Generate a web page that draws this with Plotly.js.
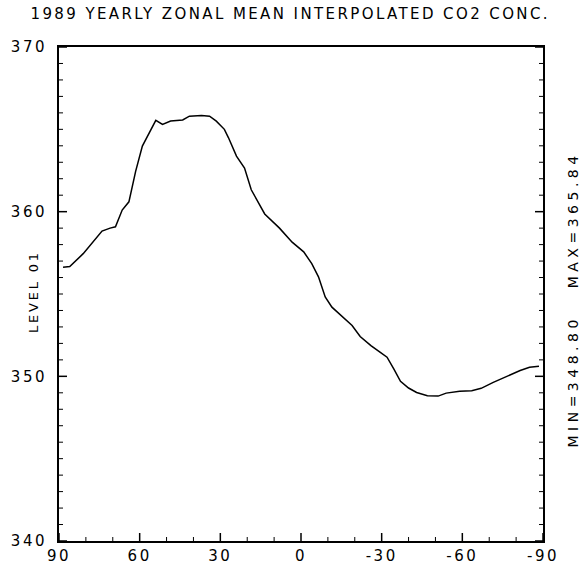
<!DOCTYPE html>
<html>
<head>
<meta charset="utf-8">
<script src="https://cdn.plot.ly/plotly-3.0.1.min.js"></script>
<style>
  html, body { margin: 0; padding: 0; background: #fff; }
  #chart { width: 584px; height: 567px; }
  .gtitle { letter-spacing: 2.4px; }
  .xtick text, .ytick text { letter-spacing: 2.5px; }
  .annotation-text { letter-spacing: 2.8px; }
</style>
</head>
<body>
<div id="chart"></div>
<script>
const titleText = "1989 YEARLY ZONAL MEAN INTERPOLATED CO2 CONC.";
const levelLabel = "LEVEL 01";
const minMaxLabel = "MIN=348.80   MAX=365.84";

const latitudes = [88.5, 86, 81, 76, 74, 71, 69, 66.5, 64, 61.5, 59, 54, 51.5, 48.5, 44, 41.5, 37, 34, 31.5, 28.5, 27, 24, 21, 18.5, 16, 13.5, 8, 3.3, -1, -4, -6.5, -9, -11.5, -15.5, -19, -22, -26, -29.5, -32, -34.5, -37, -40, -43, -47, -51, -54, -59, -63.5, -67, -71.5, -76.5, -81.5, -85, -88.5];
const co2 = [356.63, 356.67, 357.45, 358.47, 358.82, 359.0, 359.08, 360.1, 360.6, 362.45, 363.98, 365.55, 365.3, 365.5, 365.57, 365.8, 365.84, 365.8, 365.5, 365.0, 364.5, 363.37, 362.65, 361.33, 360.6, 359.86, 359.0, 358.15, 357.56, 356.85, 356.04, 354.82, 354.2, 353.6, 353.09, 352.42, 351.87, 351.46, 351.16, 350.45, 349.7, 349.29, 349.02, 348.82, 348.8, 348.98, 349.09, 349.13, 349.27, 349.63, 350.0, 350.35, 350.55, 350.61];

const xTickVals = [90, 60, 30, 0, -30, -60, -90];
const xTickText = ["90", "60", "30", "0", "-30", "-60", "-90"];
const xMinorVals = [80, 70, 50, 40, 20, 10, -10, -20, -40, -50, -70, -80];
const yTickVals = [340, 350, 360, 370];
const yMinorVals = [341, 342, 343, 344, 345, 346, 347, 348, 349, 351, 352, 353, 354, 355, 356, 357, 358, 359, 361, 362, 363, 364, 365, 366, 367, 368, 369];

const fontFamily = "DejaVu Sans, Liberation Sans, sans-serif";

const trace = {
  x: latitudes,
  y: co2,
  type: "scatter",
  mode: "lines",
  line: { color: "#000", width: 1.5 },
  hoverinfo: "x+y"
};

// tick marks drawn as shapes anchored on the axis values
const tickShapes = [];
function xTick(v, len, w) {
  tickShapes.push({
    type: "line", layer: "above",
    xref: "x", x0: v, x1: v,
    yref: "paper", ysizemode: "pixel", yanchor: 0, y0: 0, y1: len,
    line: { color: "#000", width: w }
  });
}
function yTick(v, len, w) {
  tickShapes.push({
    type: "line", layer: "above",
    yref: "y", y0: v, y1: v,
    xref: "paper", xsizemode: "pixel", xanchor: 0, x0: 0, x1: len,
    line: { color: "#000", width: w }
  });
  tickShapes.push({
    type: "line", layer: "above",
    yref: "y", y0: v, y1: v,
    xref: "paper", xsizemode: "pixel", xanchor: 1, x0: -len, x1: 0,
    line: { color: "#000", width: w }
  });
}
xTickVals.forEach(function (v) { xTick(v, 8, 1.5); });
xMinorVals.forEach(function (v) { xTick(v, 4, 1); });
yTickVals.forEach(function (v) { yTick(v, 8, 1.5); });
yMinorVals.forEach(function (v) { yTick(v, 4, 1); });

const layout = {
  width: 584,
  height: 567,
  margin: { l: 59, r: 41, t: 47, b: 26 },
  paper_bgcolor: "#fff",
  plot_bgcolor: "#fff",
  showlegend: false,
  font: { family: fontFamily, color: "#000" },
  title: {
    text: titleText,
    font: { family: fontFamily, size: 15, color: "#000" },
    xref: "container", x: 0.497, xanchor: "center",
    yref: "container", y: 1 - 14 / 567, yanchor: "middle"
  },
  xaxis: {
    range: [90, -90],
    autorange: false,
    tickmode: "array",
    tickvals: xTickVals,
    ticktext: xTickText,
    ticks: "",
    showline: true,
    linecolor: "#000",
    linewidth: 2,
    mirror: true,
    showgrid: false,
    zeroline: false,
    tickfont: { family: fontFamily, size: 15, color: "#000" }
  },
  yaxis: {
    range: [340, 370],
    autorange: false,
    tickmode: "array",
    tickvals: yTickVals,
    ticks: "",
    ticklabelstandoff: 7,
    showline: true,
    linecolor: "#000",
    linewidth: 2,
    mirror: true,
    showgrid: false,
    zeroline: false,
    tickfont: { family: fontFamily, size: 15, color: "#000" }
  },
  shapes: tickShapes,
  annotations: [
    {
      text: levelLabel,
      xref: "paper", yref: "paper",
      x: (33 - 59) / 484, y: (541 - 292) / 494,
      xanchor: "center", yanchor: "middle",
      textangle: -90,
      showarrow: false,
      font: { family: fontFamily, size: 13, color: "#000" }
    },
    {
      text: minMaxLabel,
      xref: "paper", yref: "paper",
      x: (573 - 59) / 484, y: (541 - 300) / 494,
      xanchor: "center", yanchor: "middle",
      textangle: -90,
      showarrow: false,
      font: { family: fontFamily, size: 14, color: "#000" }
    }
  ]
};

Plotly.newPlot("chart", [trace], layout, { displayModeBar: false, staticPlot: true }).then(function () {
  const annTexts = document.querySelectorAll("#chart .annotation-text");
  if (annTexts.length > 1) annTexts[1].style.letterSpacing = "4.5px";
});
</script>
</body>
</html>
